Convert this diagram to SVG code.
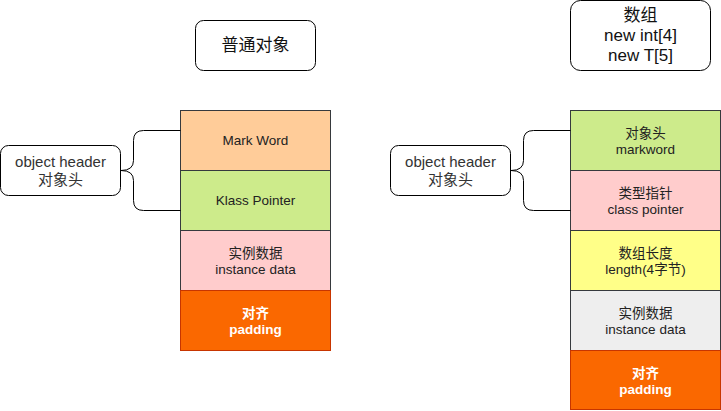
<svg xmlns="http://www.w3.org/2000/svg" width="721" height="411" viewBox="0 0 721 411">
<style>
text{font-family:"Liberation Sans","Noto Sans CJK SC",sans-serif;text-anchor:middle;}
.row{stroke:#36393d;stroke-width:1;}
.rt{font-size:13.5px;fill:#222;}
.ct{font-size:15px;fill:#333;}
.tt{font-size:17px;fill:#111;}
.box{fill:#fff;stroke:#000;stroke-width:1;}
.pad{fill:#fa6800;stroke:#c73500;stroke-width:1;}
.pt{font-size:13.5px;fill:#fff;font-weight:bold;}
.brace{fill:none;stroke:#000;stroke-width:1;}
</style>
<rect width="721" height="411" fill="#fff"/>
<g id="title-left"><rect class="box" x="195.5" y="20.5" width="120" height="50" rx="8"/><text class="tt" x="255.5" y="51">普通对象</text></g>
<g id="title-right"><rect class="box" x="570.5" y="0.5" width="140" height="70" rx="10"/>
<text class="tt" x="640.5" y="21">数组</text><text class="tt" x="640.5" y="41">new int[4]</text><text class="tt" x="640.5" y="61">new T[5]</text></g>
<g id="left-header"><rect class="box" x="0.5" y="145.5" width="120" height="50" rx="8"/>
<text class="ct" x="60.5" y="167">object header</text><text class="ct" x="60.5" y="185">对象头</text></g>
<g id="right-header"><rect class="box" x="390.5" y="145.5" width="120" height="50" rx="8"/>
<text class="ct" x="450.5" y="167">object header</text><text class="ct" x="450.5" y="185">对象头</text></g>
<g id="left-markword"><rect class="row" x="180.5" y="110.5" width="150" height="60" fill="#ffcc99"/><text class="rt" x="255.5" y="145">Mark Word</text></g>
<g id="left-klass"><rect class="row" x="180.5" y="170.5" width="150" height="60" fill="#cdeb8b"/><text class="rt" x="255.5" y="205">Klass Pointer</text></g>
<g id="left-data"><rect class="row" x="180.5" y="230.5" width="150" height="60" fill="#ffcccc"/><text class="rt" x="255.5" y="258">实例数据</text><text class="rt" x="255.5" y="274">instance data</text></g>
<g id="left-padding"><rect class="pad" x="180.5" y="290.5" width="150" height="60"/><text class="pt" x="255.5" y="318">对齐</text><text class="pt" x="255.5" y="334">padding</text></g>
<g id="right-markword"><rect class="row" x="570.5" y="110.5" width="150" height="60" fill="#cdeb8b"/><text class="rt" x="645.5" y="138">对象头</text><text class="rt" x="645.5" y="154">markword</text></g>
<g id="right-class"><rect class="row" x="570.5" y="170.5" width="150" height="60" fill="#ffcccc"/><text class="rt" x="645.5" y="198">类型指针</text><text class="rt" x="645.5" y="214">class pointer</text></g>
<g id="right-length"><rect class="row" x="570.5" y="230.5" width="150" height="60" fill="#ffff88"/><text class="rt" x="645.5" y="258">数组长度</text><text class="rt" x="645.5" y="274">length(4字节)</text></g>
<g id="right-data"><rect class="row" x="570.5" y="290.5" width="150" height="60" fill="#eeeeee"/><text class="rt" x="645.5" y="318">实例数据</text><text class="rt" x="645.5" y="334">instance data</text></g>
<g id="right-padding"><rect class="pad" x="570.5" y="350.5" width="150" height="59"/><text class="pt" x="645.5" y="378">对齐</text><text class="pt" x="645.5" y="394">padding</text></g>
<g id="connectors">
<path class="brace" d="M180.5,130.5 H143.5 Q133.5,130.5 133.5,140.5 V160.5 Q133.5,170.5 121,170.5 Q133.5,170.5 133.5,180.5 V200.5 Q133.5,210.5 143.5,210.5 H180.5"/>
<path class="brace" d="M570.5,130.5 H533.5 Q523.5,130.5 523.5,140.5 V160.5 Q523.5,170.5 511,170.5 Q523.5,170.5 523.5,180.5 V200.5 Q523.5,210.5 533.5,210.5 H570.5"/>
</g>
</svg>
